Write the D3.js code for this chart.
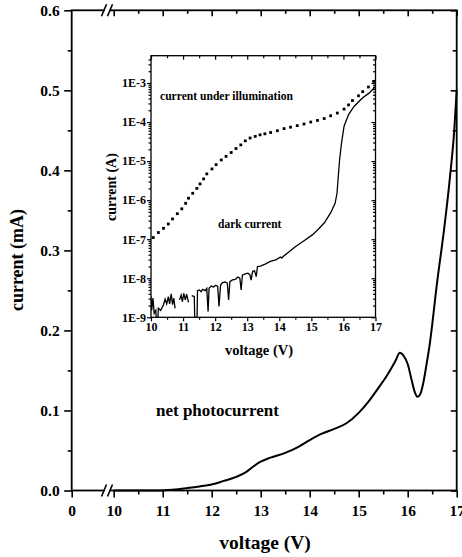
<!DOCTYPE html>
<html>
<head>
<meta charset="utf-8">
<script src="https://cdn.jsdelivr.net/npm/d3@7"></script>
<style>
  body { margin: 0; background: #fff; }
  text { font-family: "Liberation Serif", "Times New Roman", serif; font-weight: bold; }
</style>
</head>
<body>
<div id="chart"></div>
<script>
var svgWidth = 462;
var svgHeight = 557;

// net photocurrent (main plot), voltage in V, current in mA
var netV = [10.0, 10.5, 10.9, 11.2, 11.5, 11.75, 12.0, 12.25, 12.5, 12.7, 12.85, 13.0, 13.2, 13.5, 13.75,
  14.0, 14.25, 14.5, 14.75, 15.0, 15.2, 15.4, 15.6, 15.75, 15.84, 15.92, 16.0, 16.08, 16.15, 16.2,
  16.26, 16.32, 16.38, 16.45, 16.6, 16.75, 16.86, 16.95, 17.0];
var netI = [0, 0, 0, 0.001, 0.003, 0.005, 0.0075, 0.012, 0.017, 0.023, 0.03, 0.036, 0.041, 0.047, 0.054,
  0.063, 0.071, 0.077, 0.084, 0.097, 0.111, 0.128, 0.146, 0.162, 0.172, 0.168, 0.158, 0.138, 0.122, 0.117,
  0.121, 0.135, 0.156, 0.183, 0.26, 0.33, 0.39, 0.45, 0.5];

// inset: current under illumination (dots), A
var illumV = [10.07, 10.23, 10.39, 10.54, 10.67, 10.82, 10.96, 11.08, 11.17, 11.3, 11.43, 11.53, 11.64, 11.74,
  11.9, 12.03, 12.19, 12.34, 12.5, 12.65, 12.8, 12.94, 13.09, 13.25, 13.4, 13.55, 13.73, 13.94, 14.15,
  14.35, 14.56, 14.77, 14.98, 15.19, 15.4, 15.6, 15.81, 16.02, 16.16, 16.28, 16.47, 16.6, 16.78, 16.94];
var illumI = [1.1e-7, 1.48e-7, 1.9e-7, 2.45e-7, 3.3e-7, 4.5e-7, 6.0e-7, 8.3e-7, 1.12e-6, 1.5e-6, 2.0e-6, 2.6e-6,
  3.5e-6, 4.7e-6, 6.3e-6, 8.1e-6, 1.07e-5, 1.32e-5, 1.66e-5, 2.1e-5, 2.6e-5, 3.3e-5, 3.9e-5, 4.3e-5,
  4.7e-5, 5.0e-5, 5.4e-5, 6.0e-5, 6.8e-5, 7.4e-5, 8.1e-5, 8.9e-5, 1.0e-4, 1.1e-4, 1.23e-4, 1.45e-4,
  1.7e-4, 2.15e-4, 2.75e-4, 3.55e-4, 4.7e-4, 6.0e-4, 7.9e-4, 1.1e-3];

// inset: dark current (solid line), A; null = gap
var darkV = [10.0, 10.02, 10.06, 10.1, 10.15, 10.18, 10.2, 10.23, 10.3, 10.39, 10.44, 10.49, 10.54, 10.58, 10.63,
  10.67, 10.71, 10.75, 10.8, 10.89, 10.94, 10.98, 11.02, 11.07, 11.11, 11.17, 11.22, 11.27, 11.35, 11.37,
  11.43, 11.45, 11.51, 11.56, 11.61, 11.69, 11.74, 11.78, 11.81, 11.88, 11.95, 12.02, 12.08, 12.12, 12.17,
  12.23, 12.31, 12.38, 12.42, 12.46, 12.54, 12.63, 12.71, 12.77, 12.81, 12.85, 12.94, 13.02, 13.08, 13.12,
  13.17, 13.23, 13.28, 13.32, 13.41, 13.56, 13.72, 13.89, 14.04, 14.08, 14.12, 14.51, 14.75, 15.03, 15.2,
  15.4, 15.6, 15.74, 15.8, 15.84, 15.88, 15.94, 16.02, 16.16, 16.33, 16.6, 16.8, 17.0];
var darkI = [3.4e-9, 1.5e-9, 3.1e-9, 1.26e-9, 1.5e-9, 5e-10, 5e-10, 1.7e-9, 1.5e-9, 2.1e-9, 2.9e-9, 2.2e-9, 3.4e-9, 2.2e-9, 4.0e-9,
  2.1e-9, 3.1e-9, 1.7e-9, null, 2.8e-9, 3.7e-9, 2.5e-9, 4.1e-9, 2.8e-9, 3.9e-9, 2.4e-9, null, 3.6e-9, 3.4e-9, 5e-10,
  5e-10, 4.8e-9, 5.0e-9, 4.5e-9, 5.2e-9, 4.8e-9, 5.5e-9, 1.4e-9, 5.5e-9, 6.3e-9, 6.0e-9, 6.6e-9, 6.2e-9, 1.9e-9, 6.7e-9,
  7.7e-9, 8.0e-9, 7.5e-9, 2.8e-9, 8.2e-9, 9.1e-9, 9.4e-9, 1.07e-8, 1.0e-8, 5e-9, 1.2e-8, 1.3e-8, 1.35e-8, 1.25e-8, 9e-9,
  1.5e-8, 1.55e-8, 1.1e-8, 2.0e-8, 2.05e-8, 2.3e-8, 2.7e-8, 2.95e-8, 3.5e-8, 3.3e-8, 3.6e-8, 6.5e-8, 8.9e-8, 1.29e-7, 1.74e-7,
  2.6e-7, 4.7e-7, 8.3e-7, 1.5e-6, 4.1e-6, 1.07e-5, 2.9e-5, 7.8e-5, 1.55e-4, 2.5e-4, 4.2e-4, 5.5e-4, 8.1e-4];

var mainXTicks = [0, 10, 11, 12, 13, 14, 15, 16, 17];
var mainXMinor = [10.5, 11.5, 12.5, 13.5, 14.5, 15.5, 16.5];
var mainYTicks = [0, 0.1, 0.2, 0.3, 0.4, 0.5, 0.6];
var mainYMinor = [0.05, 0.15, 0.25, 0.35, 0.45, 0.55];
var insetXTicks = [10, 11, 12, 13, 14, 15, 16, 17];
var insetXMinor = [10.5, 11.5, 12.5, 13.5, 14.5, 15.5, 16.5];
var insetYTicks = [1e-9, 1e-8, 1e-7, 1e-6, 1e-5, 1e-4, 1e-3];
var insetYLabels = ["1E-9", "1E-8", "1E-7", "1E-6", "1E-5", "1E-4", "1E-3"];

var svg = d3.select("#chart")
  .append("svg")
  .attr("width", svgWidth)
  .attr("height", svgHeight);

var box = { left: 71.7, right: 456.7, top: 10.3, bottom: 490.5 };

var xScale = d3.scaleLinear()
  .domain([0, 10, 17])
  .range([box.left, 113.7, box.right]);

var yScale = d3.scaleLinear()
  .domain([0, 0.6])
  .range([box.bottom, box.top]);

function styleAxis(g, size) {
  g.attr("font-family", null).attr("font-size", size);
  g.select(".domain").remove();
  g.selectAll("line").attr("stroke", "#000").attr("stroke-width", 1.6);
}

// main axes
var bottomAxis = svg.append("g")
  .attr("transform", `translate(0, ${box.bottom})`)
  .call(d3.axisBottom(xScale).tickValues(mainXTicks).tickSize(7).tickFormat(d3.format("d")));
styleAxis(bottomAxis, 15.5);
bottomAxis.selectAll("text").attr("y", 25.5).attr("dy", null);

svg.append("g")
  .attr("transform", `translate(0, ${box.bottom})`)
  .call(d3.axisBottom(xScale).tickValues(mainXMinor).tickSize(4).tickFormat(""))
  .call(styleAxis, 10);

svg.append("g")
  .attr("transform", `translate(0, ${box.top})`)
  .call(d3.axisTop(xScale).tickValues(mainXTicks.slice(1)).tickSize(-6).tickFormat(""))
  .call(styleAxis, 10);

svg.append("g")
  .attr("transform", `translate(0, ${box.top})`)
  .call(d3.axisTop(xScale).tickValues(mainXMinor).tickSize(-3.5).tickFormat(""))
  .call(styleAxis, 10);

var leftAxis = svg.append("g")
  .attr("transform", `translate(${box.left}, 0)`)
  .call(d3.axisLeft(yScale).tickValues(mainYTicks).tickSize(7.5).tickPadding(4.5).tickFormat(d3.format(".1f")));
styleAxis(leftAxis, 15.5);

svg.append("g")
  .attr("transform", `translate(${box.left}, 0)`)
  .call(d3.axisLeft(yScale).tickValues(mainYMinor).tickSize(4).tickFormat(""))
  .call(styleAxis, 10);

svg.append("g")
  .attr("transform", `translate(${box.right}, 0)`)
  .call(d3.axisRight(yScale).tickValues(mainYTicks).tickSize(-6).tickFormat(""))
  .call(styleAxis, 10);

svg.append("g")
  .attr("transform", `translate(${box.right}, 0)`)
  .call(d3.axisRight(yScale).tickValues(mainYMinor).tickSize(-4).tickFormat(""))
  .call(styleAxis, 10);

svg.append("rect")
  .attr("x", box.left)
  .attr("y", box.top)
  .attr("width", box.right - box.left)
  .attr("height", box.bottom - box.top)
  .attr("fill", "none")
  .attr("stroke", "#000")
  .attr("stroke-width", 1.8);

// axis break marks
[box.top, box.bottom].forEach(function(yy) {
  svg.append("rect")
    .attr("x", 104.5).attr("y", yy - 2)
    .attr("width", 5).attr("height", 4)
    .attr("fill", "#fff");
  [104, 110].forEach(function(xx) {
    svg.append("line")
      .attr("x1", xx - 2.5).attr("y1", yy + 6)
      .attr("x2", xx + 2.5).attr("y2", yy - 6)
      .attr("stroke", "#000")
      .attr("stroke-width", 1.6);
  });
});

var netData = netV.map((v, i) => ({ v: v, i: netI[i] }));

svg.append("path")
  .datum(netData)
  .attr("fill", "none")
  .attr("stroke", "#000")
  .attr("stroke-width", 2)
  .attr("d", d3.line()
    .x(d => xScale(d.v))
    .y(d => yScale(d.i))
    .curve(d3.curveMonotoneX));

svg.append("text")
  .attr("x", 156)
  .attr("y", 416)
  .attr("font-size", 17)
  .text("net photocurrent");

svg.append("text")
  .attr("x", 265)
  .attr("y", 549)
  .attr("text-anchor", "middle")
  .attr("font-size", 19.5)
  .text("voltage (V)");

svg.append("text")
  .attr("transform", "translate(23, 260) rotate(-90)")
  .attr("text-anchor", "middle")
  .attr("font-size", 18)
  .text("current (mA)");

// inset
var inset = { left: 151, right: 375.5, top: 55.7, bottom: 317.3 };

var xInset = d3.scaleLinear()
  .domain([10, 17])
  .range([inset.left, inset.right]);

var yInset = d3.scaleLog()
  .domain([1e-9, 5e-3])
  .range([inset.bottom, inset.top]);

var insetMinor = [];
for (var k = -9; k <= -3; k++) {
  for (var m = 2; m <= 9; m++) {
    var val = m * Math.pow(10, k);
    if (val < 5e-3) insetMinor.push(val);
  }
}

function styleInset(g, size) {
  g.attr("font-family", null).attr("font-size", size);
  g.select(".domain").remove();
  g.selectAll("line").attr("stroke", "#000").attr("stroke-width", 1.2);
}

svg.append("rect")
  .attr("x", inset.left)
  .attr("y", inset.top)
  .attr("width", inset.right - inset.left)
  .attr("height", inset.bottom - inset.top)
  .attr("fill", "#fff");

var insetBottom = svg.append("g")
  .attr("transform", `translate(0, ${inset.bottom})`)
  .call(d3.axisBottom(xInset).tickValues(insetXTicks).tickSize(4).tickFormat(d3.format("d")));
styleInset(insetBottom, 12);
insetBottom.selectAll("text").attr("y", 13.7).attr("dy", null);

svg.append("g")
  .attr("transform", `translate(0, ${inset.bottom})`)
  .call(d3.axisBottom(xInset).tickValues(insetXMinor).tickSize(2.5).tickFormat(""))
  .call(styleInset, 10);

svg.append("g")
  .attr("transform", `translate(0, ${inset.top})`)
  .call(d3.axisTop(xInset).tickValues(insetXTicks).tickSize(-4).tickFormat(""))
  .call(styleInset, 10);

svg.append("g")
  .attr("transform", `translate(0, ${inset.top})`)
  .call(d3.axisTop(xInset).tickValues(insetXMinor).tickSize(-2.5).tickFormat(""))
  .call(styleInset, 10);

var insetLeft = svg.append("g")
  .attr("transform", `translate(${inset.left}, 0)`)
  .call(d3.axisLeft(yInset).tickValues(insetYTicks).tickSize(4).tickPadding(1)
    .tickFormat((d, i) => insetYLabels[i]));
styleInset(insetLeft, 12);

svg.append("g")
  .attr("transform", `translate(${inset.left}, 0)`)
  .call(d3.axisLeft(yInset).tickValues(insetMinor).tickSize(2.5).tickFormat(""))
  .call(styleInset, 10);

svg.append("g")
  .attr("transform", `translate(${inset.right}, 0)`)
  .call(d3.axisRight(yInset).tickValues(insetYTicks).tickSize(-4).tickFormat(""))
  .call(styleInset, 10);

svg.append("g")
  .attr("transform", `translate(${inset.right}, 0)`)
  .call(d3.axisRight(yInset).tickValues(insetMinor).tickSize(-2.5).tickFormat(""))
  .call(styleInset, 10);

svg.append("rect")
  .attr("x", inset.left)
  .attr("y", inset.top)
  .attr("width", inset.right - inset.left)
  .attr("height", inset.bottom - inset.top)
  .attr("fill", "none")
  .attr("stroke", "#000")
  .attr("stroke-width", 1.3);

svg.append("clipPath")
  .attr("id", "insetClip")
  .append("rect")
  .attr("x", inset.left)
  .attr("y", inset.top)
  .attr("width", inset.right - inset.left)
  .attr("height", inset.bottom - inset.top);

var darkData = darkV.map((v, i) => ({ v: v, i: darkI[i] }));

svg.append("path")
  .datum(darkData)
  .attr("clip-path", "url(#insetClip)")
  .attr("fill", "none")
  .attr("stroke", "#000")
  .attr("stroke-width", 1.3)
  .attr("d", d3.line()
    .defined(d => d.i != null)
    .x(d => xInset(d.v))
    .y(d => yInset(d.i)));

var illumData = illumV.map((v, i) => ({ v: v, i: illumI[i] }));

svg.append("g")
  .selectAll("rect")
  .data(illumData)
  .enter()
  .append("rect")
  .attr("x", d => xInset(d.v) - 1.4)
  .attr("y", d => yInset(d.i) - 1.4)
  .attr("width", 2.8)
  .attr("height", 2.8)
  .attr("fill", "#000");

svg.append("text")
  .attr("x", 160)
  .attr("y", 100)
  .attr("font-size", 11.6)
  .text("current under illumination");

svg.append("text")
  .attr("x", 218)
  .attr("y", 228)
  .attr("font-size", 11.5)
  .text("dark current");

svg.append("text")
  .attr("x", 259)
  .attr("y", 355)
  .attr("text-anchor", "middle")
  .attr("font-size", 14.5)
  .text("voltage (V)");

svg.append("text")
  .attr("transform", "translate(116, 187) rotate(-90)")
  .attr("text-anchor", "middle")
  .attr("font-size", 14)
  .text("current (A)");
</script>
</body>
</html>
